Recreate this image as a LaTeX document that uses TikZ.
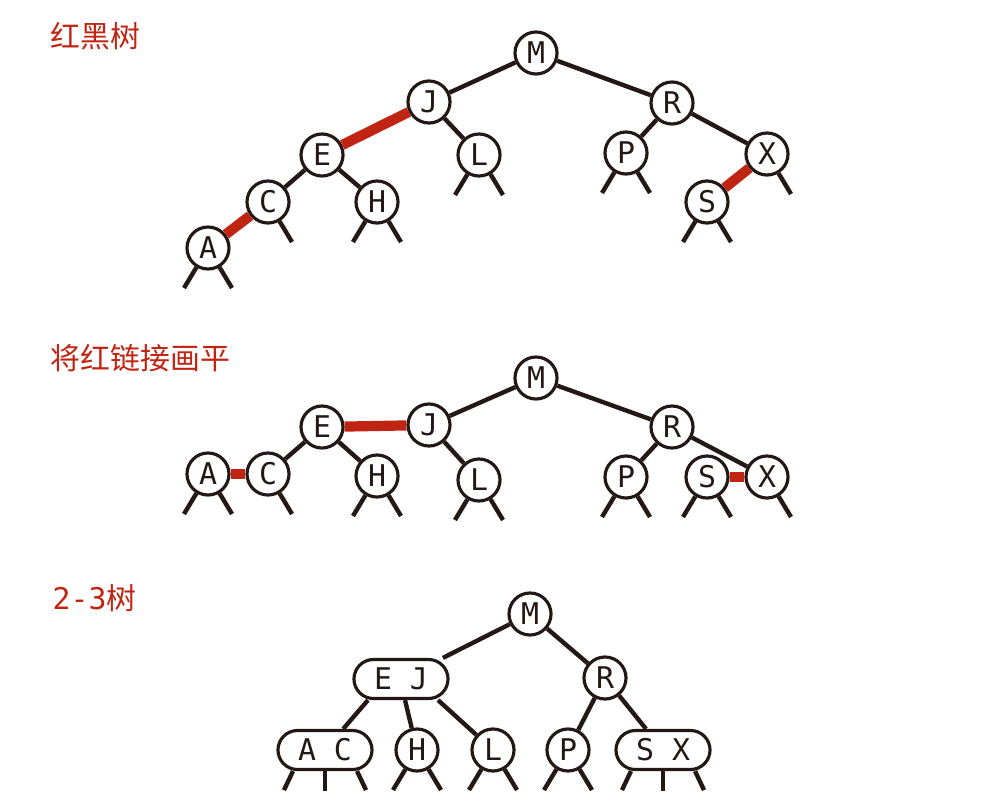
\documentclass[tikz,border=0pt]{standalone}
\usepackage{fontspec}
\setmonofont{DejaVu Sans Mono}
\newfontfamily\cjk{Noto Sans CJK SC}
\definecolor{linkred}{RGB}{192,36,18}
\definecolor{linkblack}{RGB}{35,24,21}
\begin{document}
\begin{tikzpicture}[x=0.01cm,y=-0.01cm,
	key/.style={circle,draw=linkblack,fill=white,line width=0.9pt,minimum size=0.42cm,inner sep=0pt,text=linkblack,font=\fontsize{8.5}{10}\ttfamily},
	pair/.style={key,rectangle,rounded corners=0.195cm,minimum width=0.94cm,minimum height=0.39cm},
	link/.style={line width=1.25pt,linkblack},
	redlink/.style={line width=2.9pt,linkred},
	title/.style={anchor=west,inner sep=0pt,text=linkred,font=\cjk\fontsize{8.5}{10}\selectfont}]
	\useasboundingbox (0,0) rectangle (994,806);
	
	\node[title] (rTitle) at (50,36) {红黑树};
	\node[key] (rM) at (536,53) {M};
	\node[key] (rJ) at (429,102) {J};
	\node[key] (rR) at (672,103) {R};
	\node[key] (rE) at (322,155) {E};
	\node[key] (rL) at (479,155) {L};
	\node[key] (rP) at (626,153) {P};
	\node[key] (rX) at (767,154) {X};
	\node[key] (rC) at (268,202) {C};
	\node[key] (rH) at (377,202) {H};
	\node[key] (rS) at (707,202) {S};
	\node[key] (rA) at (208,248) {A};
	\draw[link] (rM) -- (rJ);
	\draw[link] (rM) -- (rR);
	\draw[redlink] (rJ) -- (rE);
	\draw[link] (rJ) -- (rL);
	\draw[link] (rE) -- (rC);
	\draw[link] (rE) -- (rH);
	\draw[redlink] (rC) -- (rA);
	\draw[link] (rR) -- (rP);
	\draw[link] (rR) -- (rX);
	\draw[redlink] (rX) -- (rS);
	
	\node[title] (fTitle) at (50,358) {将红链接画平};
	\node[key] (fM) at (536,378) {M};
	\node[key] (fJ) at (429,425) {J};
	\node[key] (fR) at (672,427) {R};
	\node[key] (fE) at (322,427) {E};
	\node[key] (fA) at (208,474) {A};
	\node[key] (fC) at (268,474) {C};
	\node[key] (fH) at (377,476) {H};
	\node[key] (fL) at (479,480) {L};
	\node[key] (fP) at (626,477) {P};
	\node[key] (fS) at (707,477) {S};
	\node[key] (fX) at (767,477) {X};
	\draw[link] (fM) -- (fJ);
	\draw[link] (fM) -- (fR);
	\draw[redlink] (fJ) -- (fE);
	\draw[link] (fJ) -- (fL);
	\draw[link] (fE) -- (fC);
	\draw[link] (fE) -- (fH);
	\draw[redlink] (fC) -- (fA);
	\draw[link] (fR) -- (fP);
	\draw[link] (fR) -- (fX);
	\draw[redlink] (fX) -- (fS);
	
	\node[title] (tTitle) at (52,598) {{\ttfamily 2-3}树};
	\node[key] (tM) at (530,614) {M};
	\node[pair] (tEJ) at (401,679) {E J};
	\node[key] (tR) at (605,678) {R};
	\node[pair] (tAC) at (325,750) {A C};
	\node[key] (tH) at (417,750) {H};
	\node[key] (tL) at (493,750) {L};
	\node[key] (tP) at (568,750) {P};
	\node[pair] (tSX) at (663,750) {S X};
	\draw[link] (tM) -- (tEJ);
	\draw[link] (tM) -- (tR);
	\draw[link] ([xshift=-0.33cm]tEJ.south) -- (tAC);
	\draw[link] ([xshift=0.04cm]tEJ.south) -- (tH);
	\draw[link] ([xshift=0.37cm]tEJ.south) -- (tL);
	\draw[link] (tR) -- (tP);
	\draw[link] (tR) -- (tSX);
	
	\foreach \n in {rA,rH,rL,rP,rS,fA,fH,fL,fP,fS,tH,tL,tP} {
		\path (\n) ++(-24,40) coordinate (\n-l);
		\draw[link] (\n) -- (\n-l);
	}
	\foreach \n in {rA,rC,rH,rL,rP,rS,rX,fA,fC,fH,fL,fP,fS,fX,tH,tL,tP} {
		\path (\n) ++(24,40) coordinate (\n-r);
		\draw[link] (\n) -- (\n-r);
	}
	\foreach \n in {tAC,tSX} {
		\path ([xshift=-0.32cm]\n.south) ++(-9,19) coordinate (\n-l);
		\path (\n.south) ++(0,20) coordinate (\n-m);
		\path ([xshift=0.32cm]\n.south) ++(9,19) coordinate (\n-r);
		\draw[link] ([xshift=-0.32cm]\n.south) -- (\n-l);
		\draw[link] (\n.south) -- (\n-m);
		\draw[link] ([xshift=0.32cm]\n.south) -- (\n-r);
	}
\end{tikzpicture}
\end{document}
